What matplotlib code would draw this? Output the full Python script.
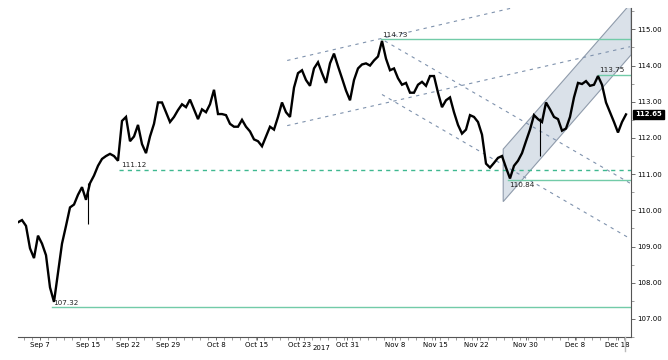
"""USD/JPY Sep-Dec 2017 with channels and key levels."""

import numpy as np
import matplotlib

matplotlib.use("Agg")
import matplotlib.pyplot as plt
from matplotlib.lines import Line2D
from matplotlib.patches import Polygon

# price path, half a trading day per step, first point 2.75 days before Sep 7
START_DAY = -2.75
STEP = 0.5
closes = [
    109.67, 109.73, 109.57, 108.95, 108.68, 109.30, 109.08, 108.76, 107.87, 107.47,
    108.27, 109.08, 109.57, 110.08, 110.16, 110.43, 110.64, 110.29, 110.75, 110.96,
    111.23, 111.42, 111.50, 111.56, 111.50, 111.37, 112.47, 112.58, 111.91, 112.04,
    112.36, 111.83, 111.58, 112.04, 112.39, 112.98, 112.98, 112.71, 112.44, 112.58,
    112.77, 112.93, 112.85, 113.06, 112.79, 112.52, 112.79, 112.71, 112.93, 113.33,
    112.66, 112.66, 112.63, 112.39, 112.31, 112.31, 112.50, 112.31, 112.18, 111.96,
    111.91, 111.77, 112.04, 112.31, 112.23, 112.58, 112.98, 112.71, 112.58, 113.39,
    113.79, 113.87, 113.60, 113.44, 113.92, 114.09, 113.79, 113.52, 114.06, 114.33,
    113.98, 113.65, 113.31, 113.04, 113.60, 113.92, 114.03, 114.06, 114.00, 114.14,
    114.25, 114.68, 114.19, 113.87, 113.92, 113.65, 113.47, 113.52, 113.25, 113.25,
    113.47, 113.55, 113.44, 113.71, 113.71, 113.25, 112.85, 113.04, 113.12, 112.71,
    112.36, 112.12, 112.23, 112.63, 112.58, 112.44, 112.09, 111.29, 111.18, 111.31,
    111.45, 111.50, 111.18, 110.88, 111.23, 111.37, 111.58, 111.91, 112.23, 112.63,
    112.52, 112.44, 112.98, 112.79, 112.58, 112.52, 112.20, 112.26, 112.58, 113.12,
    113.52, 113.49, 113.57, 113.44, 113.47, 113.71, 113.47, 112.98, 112.71, 112.44,
    112.15, 112.44, 112.65,
]
last_price = 112.65

# isolated wicks (day, low, high)
wick_days = [6.0, 62.5]
wick_lows = [109.62, 111.50]
wick_highs = [110.75, 112.55]

# key levels: value, first day, label side
level_values = [107.32, 111.12, 114.73, 113.75, 110.84]
level_start = [1.5, 9.9, 42.6, 69.75, 58.5]
level_dashed = [False, True, False, False, False]
level_label_below = [False, False, False, False, True]

# dashed trend lines: (day0, price0, day1, price1)
trend_lines = [
    (30.9, 114.14, 59.0, 115.59),
    (30.9, 112.34, 73.75, 114.52),
    (43.1, 114.68, 73.75, 110.75),
    (42.75, 113.20, 73.75, 109.22),
]

# shaded rising channel
channel_days = [57.9, 73.9, 73.9, 57.9]
channel_prices = [111.69, 115.73, 114.30, 110.24]

tick_days = [0, 6, 11, 16, 22, 27.1, 32.4, 38.4, 44.4, 49.4, 54.6, 60.7, 66.9, 72.2]
tick_labels = ["Sep 7", "Sep 15", "Sep 22", "Sep 29", "Oct 8", "Oct 15", "Oct 23",
               "Oct 31", "Nov 8", "Nov 15", "Nov 22", "Nov 30", "Dec 8", "Dec 18"]

GREEN = "#72cba8"
TEAL = "#3fb890"
GREY = "#7f92ad"

fig = plt.figure(figsize=(6.68, 3.6), dpi=100)
ax = fig.add_axes([18 / 668, 23 / 360, 613 / 668, 329 / 360])
ax.set_xlim(-2.75, 73.875)
ax.set_ylim(106.74, 115.59)

ax.add_patch(Polygon(np.column_stack([channel_days, channel_prices]), closed=True,
                     facecolor="#dae1e9", edgecolor="#8f9bab", lw=0.8, zorder=1))

for d0, p0, d1, p1 in trend_lines:
    ax.plot([d0, d1], [p0, p1], color=GREY, lw=0.8, ls=(0, (3, 4)), zorder=2)

for val, start, dashed, below in zip(level_values, level_start, level_dashed, level_label_below):
    ax.plot([start, 73.875], [val, val], color=TEAL if dashed else GREEN,
            lw=1.0, ls=(0, (3, 3)) if dashed else "-", zorder=2)
    ax.text(start + 0.2, val + (-0.07 if below else 0.04), f"{val:.2f}",
            fontsize=5.2, color="#222222", va="top" if below else "bottom", ha="left",
            zorder=4)

days = START_DAY + STEP * np.arange(len(closes))
ax.plot(days, closes, color="black", lw=1.7, zorder=3, solid_joinstyle="miter")
ax.vlines(wick_days, wick_lows, wick_highs, color="black", lw=0.8, zorder=3)

# axes styling
for side in ("top", "left"):
    ax.spines[side].set_visible(False)
for side in ("bottom", "right"):
    ax.spines[side].set_color("#555555")
    ax.spines[side].set_linewidth(0.8)

ax.yaxis.tick_right()
ax.set_yticks(np.arange(107, 116))
ax.set_yticklabels([f"{v:.2f}" for v in np.arange(107, 116)])
ax.set_yticks(np.arange(106.5, 115.6, 1.0), minor=True)
ax.set_xticks(tick_days)
ax.set_xticklabels(tick_labels)
ax.set_xticks(np.arange(-2, 74, 1), minor=True)
ax.tick_params(axis="both", which="major", labelsize=5, length=3, width=0.6,
               color="#555555", pad=1.5)
ax.tick_params(axis="both", which="minor", length=1.8, width=0.5, color="#777777")
ax.tick_params(axis="x", which="both", length=2)

ax.annotate(f"{last_price:.2f}", xy=(1.0, last_price), xycoords=("axes fraction", "data"),
            xytext=(3, 0), textcoords="offset points", fontsize=5, color="white",
            va="center", ha="left", fontweight="bold",
            bbox=dict(boxstyle="square,pad=0.25", fc="black", ec="black"),
            annotation_clip=False)

fig.text(321 / 668, 1 - 348 / 360, "2017", fontsize=5, ha="center", va="center")
fig.add_artist(Line2D([625 / 668, 625 / 668], [1 - 337 / 360, 1 - 351 / 360],
                      color="#bbbbbb", lw=1))

fig.savefig("out.png", dpi=100)
